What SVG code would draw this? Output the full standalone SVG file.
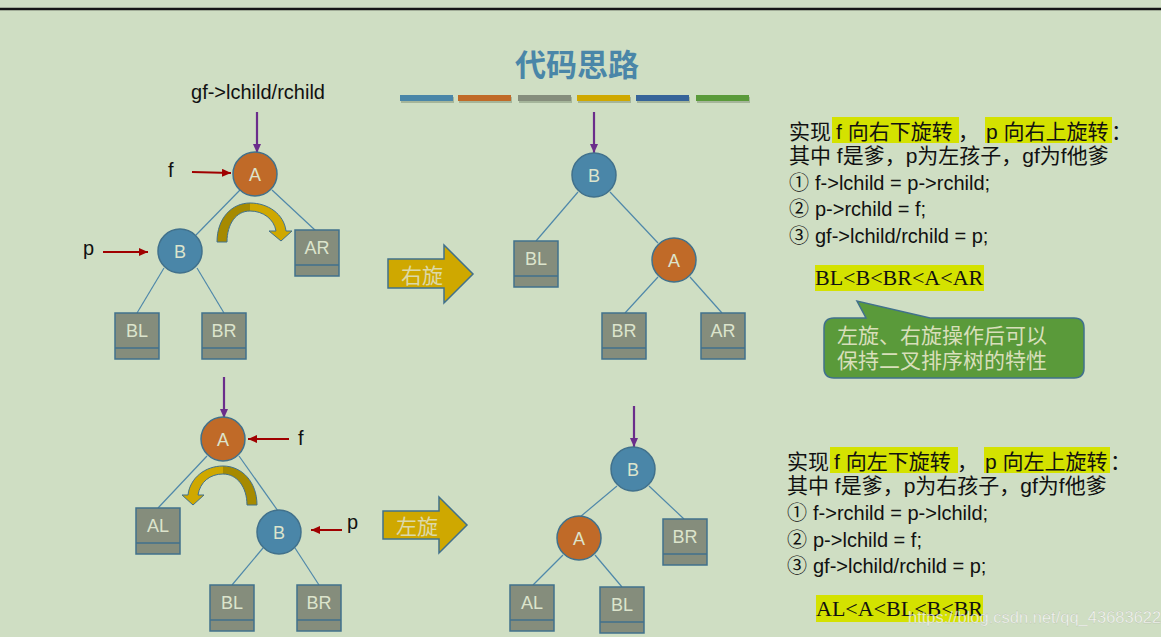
<svg xmlns="http://www.w3.org/2000/svg" width="1161" height="637" viewBox="0 0 1161 637">
<style>
.edge{stroke:#4F88AA;stroke-width:1.2;fill:none}
.circ{stroke:#41718C;stroke-width:1.5}
.oa{fill:#C06A28}
.bb{fill:#4A86A8}
.box{fill:#858D7C;stroke:#41718C;stroke-width:1.5}
.div{stroke:#41718C;stroke-width:1.5}
.nl{font-family:"Liberation Sans",Arial,sans-serif;font-size:18px;fill:#DCE4CC;text-anchor:middle}
.red{stroke:#A00000;stroke-width:2;fill:none}
.pur{stroke:#6B2D8B;stroke-width:2.2;fill:none}
.lbl{font-family:"Liberation Sans",Arial,sans-serif;font-size:20px;fill:#111}
.cn{font-family:"Liberation Sans","Noto Sans CJK SC",sans-serif;font-size:21px;fill:#111}
.code{font-family:"Liberation Sans","Noto Sans CJK SC",sans-serif;font-size:20px;fill:#111}
.num{font-family:"Noto Sans CJK SC",sans-serif;font-size:20px;fill:#111}
.hl{fill:#D4E200}
.ord{font-family:"Liberation Serif","Times New Roman",serif;font-size:22px;fill:#111}
.blk{fill:#CFA800;stroke:#41718C;stroke-width:1.5}
.blkt{font-family:"Noto Sans CJK SC",sans-serif;font-size:21px;fill:#DCD9A8}
.outl{fill:none;stroke:#41718C;stroke-width:1}
.call{font-family:"Noto Sans CJK SC",sans-serif;font-size:21px;fill:#D8DFBA}
</style>
<defs>
<marker id="mr" markerUnits="userSpaceOnUse" markerWidth="9" markerHeight="8" refX="9" refY="4" orient="auto"><path d="M0,0 L9,4 L0,8 Z" fill="#A00000"/></marker>
<marker id="mp" markerUnits="userSpaceOnUse" markerWidth="9" markerHeight="8" refX="9" refY="4" orient="auto"><path d="M0,0 L9,4 L0,8 Z" fill="#6B2D8B"/></marker>
</defs>
<rect x="0" y="0" width="1161" height="637" fill="#CFDEC3"/>
<line x1="0" y1="9" x2="1161" y2="9" stroke="#151515" stroke-width="2.6"/>

<text x="577" y="76" font-family="'Noto Sans CJK SC',sans-serif" font-size="31" font-weight="bold" fill="#4A86A8" text-anchor="middle">代码思路</text>
<g id="colorbars">
<g fill="#8A9A80" opacity="0.6">
<rect x="401" y="97" width="53" height="6"/><rect x="459" y="97" width="53" height="6"/><rect x="519" y="97" width="53" height="6"/><rect x="578" y="97" width="53" height="6"/><rect x="637" y="97" width="53" height="6"/><rect x="697" y="97" width="53" height="6"/>
</g>
<rect x="400" y="95" width="53" height="6" fill="#4A86A8"/>
<rect x="458" y="95" width="53" height="6" fill="#C06A28"/>
<rect x="518" y="95" width="53" height="6" fill="#858D7C"/>
<rect x="577" y="95" width="53" height="6" fill="#CFA800"/>
<rect x="636" y="95" width="53" height="6" fill="#366499"/>
<rect x="696" y="95" width="53" height="6" fill="#5A9A3A"/>
</g>

<g id="connectors">
<line class="edge" x1="240" y1="190" x2="196" y2="235"/>
<line class="edge" x1="272" y1="190" x2="316" y2="231"/>
<line class="edge" x1="164" y1="268" x2="137" y2="313"/>
<line class="edge" x1="197" y1="268" x2="224" y2="313"/>
<line class="edge" x1="578" y1="192" x2="536" y2="241"/>
<line class="edge" x1="610" y1="192" x2="658" y2="243"/>
<line class="edge" x1="658" y1="277" x2="625" y2="313"/>
<line class="edge" x1="690" y1="277" x2="722" y2="313"/>
<line class="edge" x1="207" y1="456" x2="158" y2="508"/>
<line class="edge" x1="239" y1="456" x2="278" y2="511"/>
<line class="edge" x1="263" y1="548" x2="232" y2="585"/>
<line class="edge" x1="295" y1="548" x2="319" y2="585"/>
<line class="edge" x1="617" y1="486" x2="580" y2="517"/>
<line class="edge" x1="649" y1="486" x2="684" y2="519"/>
<line class="edge" x1="563" y1="555" x2="533" y2="585"/>
<line class="edge" x1="595" y1="555" x2="622" y2="587"/>
<line class="pur" x1="257" y1="112" x2="257" y2="153" marker-end="url(#mp)"/>
<line class="pur" x1="594" y1="112" x2="594" y2="153" marker-end="url(#mp)"/>
<line class="pur" x1="224" y1="377" x2="224" y2="418" marker-end="url(#mp)"/>
<line class="pur" x1="634" y1="406" x2="634" y2="447" marker-end="url(#mp)"/>
<line class="red" x1="192" y1="172" x2="231" y2="173" marker-end="url(#mr)"/>
<line class="red" x1="103" y1="252" x2="148" y2="252" marker-end="url(#mr)"/>
<line class="red" x1="289" y1="439" x2="248" y2="439" marker-end="url(#mr)"/>
<line class="red" x1="342" y1="530" x2="311" y2="530" marker-end="url(#mr)"/>
</g>

<text class="lbl" x="258" y="99" text-anchor="middle">gf-&gt;lchild/rchild</text>
<text class="lbl" x="168" y="177">f</text>
<text class="lbl" x="83" y="255">p</text>
<text class="lbl" x="298" y="445">f</text>
<text class="lbl" x="347" y="529">p</text>

<g id="rot-right">
<path d="M217,242 C217,218 232,203 250,203 L250,211 C236,211 227,224 227,242 Z" fill="#A68A00"/>
<path d="M250,203 C268,203 284,214 286,231 L292,231 L281,241 L269,231 L276,231 C274,219 263,211 250,211 Z" fill="#CFA800"/>
<path class="outl" d="M217,242 C217,218 232,203 250,203 C268,203 284,214 286,231 L292,231 L281,241 L269,231 L276,231 C274,219 263,211 250,211 C236,211 227,224 227,242 Z"/>
</g>
<g id="rot-left">
<path d="M257,505 C257,482 242,466 223,466 L223,474 C237,474 247,487 247,505 Z" fill="#A68A00"/>
<path d="M223,466 C205,466 190,478 188,495 L182,495 L193,505 L204,495 L198,495 C200,482 210,474 223,474 Z" fill="#CFA800"/>
<path class="outl" d="M257,505 C257,482 242,466 223,466 C205,466 190,478 188,495 L182,495 L193,505 L204,495 L198,495 C200,482 210,474 223,474 C237,474 247,487 247,505 Z"/>
</g>

<g id="arrow-youxuan">
<path class="blk" d="M388,259 L444,259 L444,245 L473,274 L444,303 L444,288 L388,288 Z"/>
<text class="blkt" x="401" y="283">右旋</text>
</g>
<g id="arrow-zuoxuan">
<path class="blk" d="M383,511 L439,511 L439,497 L467,525 L439,553 L439,539 L383,539 Z"/>
<text class="blkt" x="396" y="534">左旋</text>
</g>

<g id="tl-A"><circle class="circ oa" cx="255" cy="174" r="22"/><text class="nl" x="255" y="180.5">A</text></g>
<g id="tl-B"><circle class="circ bb" cx="180" cy="251" r="22"/><text class="nl" x="180" y="257.5">B</text></g>
<g id="tl-AR"><rect class="box" x="295" y="230" width="44" height="46"/><line class="div" x1="295" y1="265" x2="339" y2="265"/><text class="nl" x="317" y="254">AR</text></g>
<g id="tl-BL"><rect class="box" x="115" y="313" width="44" height="46"/><line class="div" x1="115" y1="348" x2="159" y2="348"/><text class="nl" x="137" y="337">BL</text></g>
<g id="tl-BR"><rect class="box" x="202" y="313" width="44" height="46"/><line class="div" x1="202" y1="348" x2="246" y2="348"/><text class="nl" x="224" y="337">BR</text></g>

<g id="tr-B"><circle class="circ bb" cx="594" cy="175" r="22"/><text class="nl" x="594" y="181.5">B</text></g>
<g id="tr-A"><circle class="circ oa" cx="674" cy="260" r="22"/><text class="nl" x="674" y="266.5">A</text></g>
<g id="tr-BL"><rect class="box" x="514" y="241" width="44" height="46"/><line class="div" x1="514" y1="276" x2="558" y2="276"/><text class="nl" x="536" y="265">BL</text></g>
<g id="tr-BR"><rect class="box" x="602" y="313" width="44" height="46"/><line class="div" x1="602" y1="348" x2="646" y2="348"/><text class="nl" x="624" y="337">BR</text></g>
<g id="tr-AR"><rect class="box" x="701" y="313" width="44" height="46"/><line class="div" x1="701" y1="348" x2="745" y2="348"/><text class="nl" x="723" y="337">AR</text></g>

<g id="bl-A"><circle class="circ oa" cx="223" cy="439" r="22"/><text class="nl" x="223" y="445.5">A</text></g>
<g id="bl-B"><circle class="circ bb" cx="279" cy="532" r="22"/><text class="nl" x="279" y="538.5">B</text></g>
<g id="bl-AL"><rect class="box" x="136" y="508" width="44" height="46"/><line class="div" x1="136" y1="543" x2="180" y2="543"/><text class="nl" x="158" y="532">AL</text></g>
<g id="bl-BL"><rect class="box" x="210" y="585" width="44" height="46"/><line class="div" x1="210" y1="620" x2="254" y2="620"/><text class="nl" x="232" y="609">BL</text></g>
<g id="bl-BR"><rect class="box" x="297" y="585" width="44" height="46"/><line class="div" x1="297" y1="620" x2="341" y2="620"/><text class="nl" x="319" y="609">BR</text></g>

<g id="br-B"><circle class="circ bb" cx="633" cy="469" r="22"/><text class="nl" x="633" y="475.5">B</text></g>
<g id="br-A"><circle class="circ oa" cx="579" cy="538" r="22"/><text class="nl" x="579" y="544.5">A</text></g>
<g id="br-BR"><rect class="box" x="663" y="519" width="44" height="46"/><line class="div" x1="663" y1="554" x2="707" y2="554"/><text class="nl" x="685" y="543">BR</text></g>
<g id="br-AL"><rect class="box" x="510" y="585" width="44" height="46"/><line class="div" x1="510" y1="620" x2="554" y2="620"/><text class="nl" x="532" y="609">AL</text></g>
<g id="br-BL"><rect class="box" x="600" y="587" width="44" height="46"/><line class="div" x1="600" y1="622" x2="644" y2="622"/><text class="nl" x="622" y="611">BL</text></g>

<g id="text-right-rotation">
<rect class="hl" x="832" y="117" width="127" height="26"/>
<rect class="hl" x="985" y="117" width="127" height="26"/>
<text class="cn" x="789" y="139">实现</text>
<text class="cn" x="836" y="139">f 向右下旋转</text>
<text class="cn" x="958" y="139">，</text>
<text class="cn" x="986" y="139">p 向右上旋转</text>
<text class="cn" x="1111" y="139">：</text>
<text class="cn" x="789" y="163">其中 f是爹，p为左孩子，gf为f他爹</text>
<text class="num" x="789" y="190">①</text><text class="code" x="815" y="190">f-&gt;lchild = p-&gt;rchild;</text>
<text class="num" x="789" y="216">②</text><text class="code" x="815" y="216">p-&gt;rchild = f;</text>
<text class="num" x="789" y="243">③</text><text class="code" x="815" y="243">gf-&gt;lchild/rchild = p;</text>
<rect class="hl" x="815" y="265" width="169" height="26"/>
<text class="ord" x="815" y="285">BL&lt;B&lt;BR&lt;A&lt;AR</text>
</g>

<g id="callout">
<path d="M834,318 L866,318 L857,301 L930,318 L1074,318 Q1084,318 1084,328 L1084,368 Q1084,378 1074,378 L834,378 Q824,378 824,368 L824,328 Q824,318 834,318 Z" fill="#5A9A3A" stroke="#41718C" stroke-width="1.5"/>
<text class="call" x="837" y="343">左旋、右旋操作后可以</text>
<text class="call" x="837" y="368">保持二叉排序树的特性</text>
</g>

<g id="text-left-rotation">
<rect class="hl" x="830" y="447" width="128" height="26"/>
<rect class="hl" x="984" y="447" width="126" height="26"/>
<text class="cn" x="787" y="469">实现</text>
<text class="cn" x="834" y="469">f 向左下旋转</text>
<text class="cn" x="957" y="469">，</text>
<text class="cn" x="985" y="469">p 向左上旋转</text>
<text class="cn" x="1110" y="469">：</text>
<text class="cn" x="787" y="493">其中 f是爹，p为右孩子，gf为f他爹</text>
<text class="num" x="787" y="520">①</text><text class="code" x="813" y="520">f-&gt;rchild = p-&gt;lchild;</text>
<text class="num" x="787" y="547">②</text><text class="code" x="813" y="547">p-&gt;lchild = f;</text>
<text class="num" x="787" y="573">③</text><text class="code" x="813" y="573">gf-&gt;lchild/rchild = p;</text>
<rect class="hl" x="816" y="595" width="167" height="27"/>
<text class="ord" x="816" y="616">AL&lt;A&lt;BL&lt;B&lt;BR</text>
</g>

<text x="908" y="623" font-family="'Liberation Sans',Arial,sans-serif" font-size="16.5" fill="#FFFFFF" fill-opacity="0.75" stroke="#9AA090" stroke-width="0.3" stroke-opacity="0.6">https://blog.csdn.net/qq_43683622</text>
</svg>
